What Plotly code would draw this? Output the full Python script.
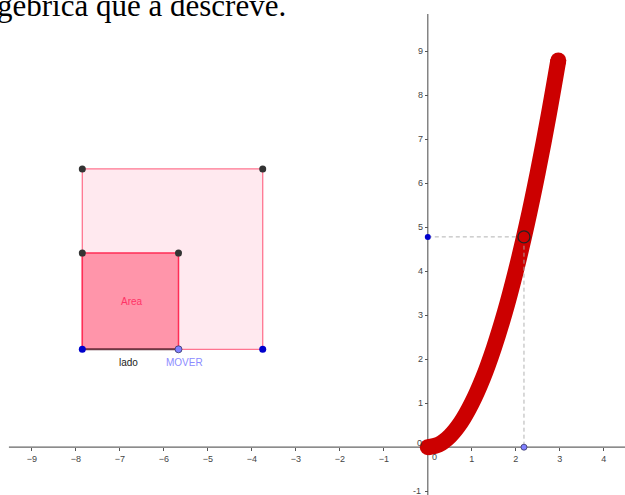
import plotly.graph_objects as go

# ---- data ----
curve_x = [0, 0.25, 0.5, 0.75, 1.0, 1.25, 1.5, 1.75, 2.0, 2.25, 2.5, 2.75, 2.966]
curve_y = [0, 0.06, 0.25, 0.56, 1.0, 1.56, 2.25, 3.06, 4.0, 5.06, 6.25, 7.56, 8.79]

lado = 2.186          # side of the moving square
area = 4.78           # its area (y of the point on the curve)
big_side = 4.10       # side of the large square
square_origin = (-7.852, 2.225)  # bottom-left corner of both squares

x_ticks = [-9, -8, -7, -6, -5, -4, -3, -2, -1, 1, 2, 3, 4]
y_ticks = [-1, 1, 2, 3, 4, 5, 6, 7, 8, 9]

header_text = "gébrica que a descreve."
labels = {"area": "Area", "lado": "lado", "mover": "MOVER"}

# ---- figure ----
x0, y0 = square_origin
fig = go.Figure()

RED = "#cc0000"
LW = 16
# locus curve
fig.add_trace(go.Scatter(x=curve_x, y=curve_y, mode="lines",
                         line=dict(color=RED, width=LW, shape="spline"),
                         hoverinfo="skip", showlegend=False))
# round caps
fig.add_trace(go.Scatter(x=[curve_x[0], curve_x[-1]], y=[curve_y[0], curve_y[-1]],
                         mode="markers", marker=dict(color=RED, size=LW, line=dict(width=0)),
                         hoverinfo="skip", showlegend=False))
# dashed guides
fig.add_trace(go.Scatter(x=[0, lado, lado], y=[area, area, 0], mode="lines",
                         line=dict(color="rgba(170,170,170,0.9)", width=1, dash="4px,3px"),
                         hoverinfo="skip", showlegend=False))
# point on curve
fig.add_trace(go.Scatter(x=[lado], y=[area], mode="markers",
                         marker=dict(color=RED, size=12, line=dict(color="#222222", width=1.3)),
                         hoverinfo="skip", showlegend=False))
# point on y axis
fig.add_trace(go.Scatter(x=[0], y=[area], mode="markers",
                         marker=dict(color="#0000cc", size=6, line=dict(width=0)),
                         hoverinfo="skip", showlegend=False))
# point on x axis
fig.add_trace(go.Scatter(x=[lado], y=[0], mode="markers",
                         marker=dict(color="#8080ff", size=6, line=dict(color="#333366", width=0.8)),
                         hoverinfo="skip", showlegend=False))

# squares as shapes
fig.add_shape(type="rect", xref="x", yref="y", x0=x0, y0=y0, x1=x0 + big_side, y1=y0 + big_side,
              fillcolor="#ffe9ef", line=dict(color="#ff7590", width=1.3), layer="below")
fig.add_shape(type="rect", xref="x", yref="y", x0=x0, y0=y0, x1=x0 + lado, y1=y0 + lado,
              fillcolor="#ff95aa", line=dict(color="#ff2d55", width=1.5), layer="below")
# segment "lado"
fig.add_trace(go.Scatter(x=[x0, x0 + lado], y=[y0, y0], mode="lines",
                         line=dict(color="#6a3a44", width=2),
                         hoverinfo="skip", showlegend=False))
# dark corner points
fig.add_trace(go.Scatter(x=[x0, x0 + big_side, x0, x0 + lado],
                         y=[y0 + big_side, y0 + big_side, y0 + lado, y0 + lado],
                         mode="markers", marker=dict(color="#333333", size=7, line=dict(width=0)),
                         hoverinfo="skip", showlegend=False))
# blue points
fig.add_trace(go.Scatter(x=[x0, x0 + big_side], y=[y0, y0], mode="markers",
                         marker=dict(color="#0000cc", size=7, line=dict(width=0)),
                         hoverinfo="skip", showlegend=False))
# MOVER point
fig.add_trace(go.Scatter(x=[x0 + lado], y=[y0], mode="markers",
                         marker=dict(color="#8080ff", size=7, line=dict(color="#333366", width=0.8)),
                         hoverinfo="skip", showlegend=False))

# axis lines
fig.add_shape(type="line", xref="x", yref="y", x0=-9.52, y0=0, x1=4.6, y1=0,
              line=dict(color="#666666", width=1.2), layer="below")
fig.add_shape(type="line", xref="x", yref="y", x0=0, y0=-1.2, x1=0, y1=9.845,
              line=dict(color="#666666", width=1.2), layer="below")

lab_font = dict(family="Liberation Sans, Arial, sans-serif", size=10)
fig.add_annotation(x=x0 + lado / 2 + 0.04, y=y0 + lado / 2, xref="x", yref="y", text=labels["area"],
                   showarrow=False, font=dict(lab_font, color="#ff3366"))
fig.add_annotation(x=x0 + lado / 2 - 0.04, y=y0 - 0.31, xref="x", yref="y", text=labels["lado"],
                   showarrow=False, font=dict(lab_font, color="#222222"))
fig.add_annotation(x=x0 + lado + 0.13, y=y0 - 0.31, xref="x", yref="y", text=labels["mover"],
                   showarrow=False, font=dict(lab_font, color="#8c8cff"))

tick_font = dict(family="Liberation Sans, Arial, sans-serif", size=9, color="#444444")
fig.add_annotation(x=-0.2, y=0.10, xref="x", yref="y", text="0", showarrow=False, font=tick_font)
fig.add_annotation(x=0.148, y=-0.216, xref="x", yref="y", text="0", showarrow=False, font=tick_font)
# "-1" label near the bottom edge (plotly drops it because it overflows)
fig.add_annotation(x=-0.1, y=y_ticks[0], xref="x", yref="y", xanchor="right", yanchor="middle",
                   text=str(y_ticks[0]), showarrow=False, font=tick_font)

# header text (cropped page text)
fig.add_annotation(x=-0.008, y=0.988, xref="paper", yref="paper", xanchor="left", yanchor="middle",
                   text=header_text, showarrow=False,
                   font=dict(family="Liberation Serif, Times New Roman, serif", size=31, color="#000000"))

W, H = 625, 495
ox, oy, ppu = 427.8, 447.2, 44.0
fig.update_layout(
    width=W, height=H, margin=dict(l=0, r=0, t=0, b=0),
    paper_bgcolor="white", plot_bgcolor="white", showlegend=False,
    xaxis=dict(range=[-ox / ppu, (W - ox) / ppu], showgrid=False, zeroline=False, showline=False,
               anchor="free", position=(H - oy) / H, tickvals=x_ticks, ticks="outside",
               ticklen=3, tickcolor="#555555", tickfont=tick_font, fixedrange=True),
    yaxis=dict(range=[(oy - H) / ppu, oy / ppu], showgrid=False, zeroline=False, showline=False,
               anchor="free", position=ox / W, tickvals=y_ticks, ticks="outside",
               ticklen=3, tickcolor="#555555", tickfont=tick_font, fixedrange=True),
)

fig.write_html("out.html", config={"displayModeBar": False},
               post_script="document.body.style.margin='0';document.body.style.overflow='hidden';")
